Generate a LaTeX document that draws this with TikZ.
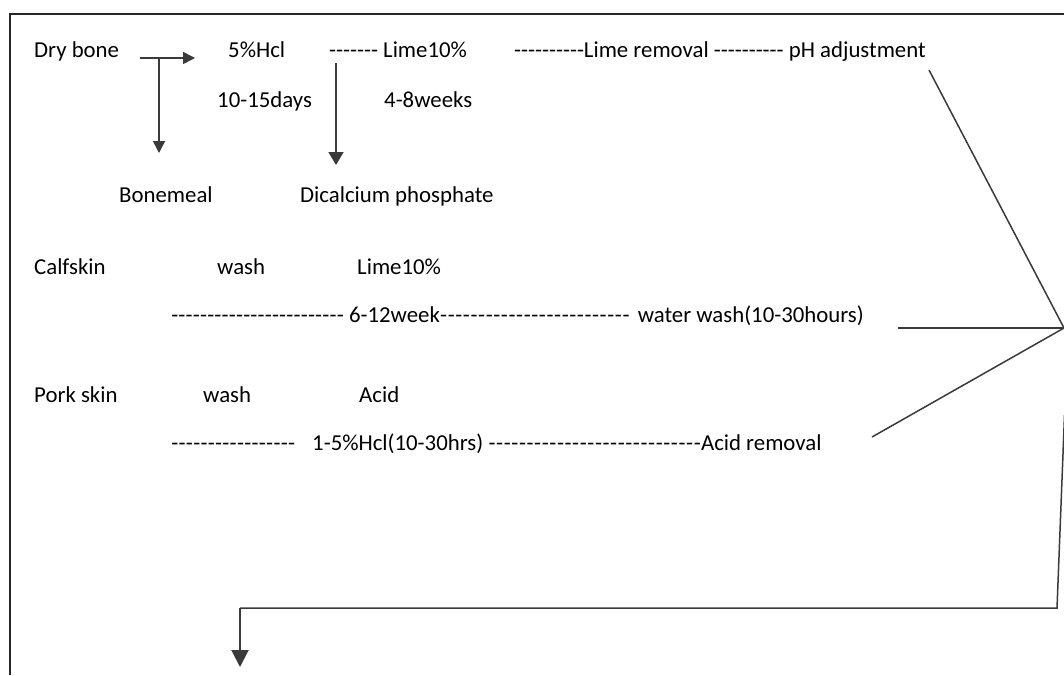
\documentclass[tikz,border=0pt]{standalone}
\usepackage{fontspec}
\setmainfont{Carlito}
\usetikzlibrary{arrows.meta}
\newcommand\hy[1]{\foreach\i in {1,...,#1}{\mbox{-}}}
\newcommand\hyw[2]{\foreach\i in {1,...,#1}{\makebox[#2][c]{-}}}
\definecolor{lnc}{HTML}{3A3A3A}
\begin{document}
\begin{tikzpicture}[x=1pt,y=-1pt,
  txt/.style={anchor=base west,inner sep=0pt,font=\fontsize{22.8}{27}\selectfont,text=black},
  ln/.style={draw=lnc,line width=1.5pt},
  frame/.style={draw=black!85,line width=2pt},
  tipS/.style={-{Triangle[length=12pt,width=12pt]}},
  tipM/.style={-{Triangle[length=13pt,width=15pt]}},
  tipL/.style={-{Triangle[length=17pt,width=17pt]}}]
\useasboundingbox (0,0) rectangle (1064,675);
% frame
\coordinate (fTR) at (1064,14);
\coordinate (fTL) at (10,14);
\coordinate (fBL) at (10,675);
\draw[frame] (fTR) -- (fTL) -- (fBL);
% texts
\node[txt] (dry) at (34,57) {Dry bone};
\node[txt] (hcl) at (228,57) {5\%Hcl};
\node[txt] (lime1) at (329,57) {\hy{7} Lime10\%};
\node[txt] (limerem) at (514,57) {\hy{10}Lime removal \hy{10} pH adjustment};
\node[txt] (days) at (217,107) {10-15days};
\node[txt] (weeks) at (384,107) {4-8weeks};
\node[txt] (bonemeal) at (119,202) {Bonemeal};
\node[txt] (dcp) at (300,202) {Dicalcium phosphate};
\node[txt] (calf) at (34,274) {Calfskin};
\node[txt] (wash1) at (217,274) {wash};
\node[txt] (lime2) at (357,274) {Lime10\%};
\node[txt] (row2) at (171,322) {\hyw{24}{7.2pt} 6-12week\hyw{25}{7.6pt}\hspace{8pt}water wash(10-30hours)};
\node[txt] (pork) at (34,402) {Pork skin};
\node[txt] (wash2) at (203,402) {wash};
\node[txt] (acid) at (359,402) {Acid};
\node[txt] (row3) at (171,450) {\hyw{17}{7.3pt}\hspace{17pt}1-5\%Hcl(10-30hrs) \hyw{28}{7.6pt}Acid removal};
% dry bone arrows
\coordinate (a1s) at (140,58);
\coordinate (a1e) at (195,58);
\coordinate (a1j) at (159,58);
\coordinate (a1d) at (159,153);
\draw[ln,tipS] (a1s) -- (a1e);
\draw[ln,tipS] (a1j) -- (a1d);
\coordinate (a2s) at (336,63);
\coordinate (a2e) at (336,165);
\draw[ln,tipM] (a2s) -- (a2e);
% converging lines
\coordinate (conv) at (1064,328);
\coordinate (cph) at (929,70);
\coordinate (cww) at (898,328);
\coordinate (car) at (872,437);
\draw[ln] (cph) -- (conv);
\draw[ln] (cww) -- (conv);
\draw[ln] (car) -- (conv);
% return line
\coordinate (rt) at (1064.5,415);
\coordinate (rc) at (1057,608);
\coordinate (bl) at (240,608);
\coordinate (be) at (240,667);
\draw[ln] (rt) -- (rc) -- (bl);
\draw[ln,line width=2pt,tipL] (bl) -- (be);
\end{tikzpicture}
\end{document}
